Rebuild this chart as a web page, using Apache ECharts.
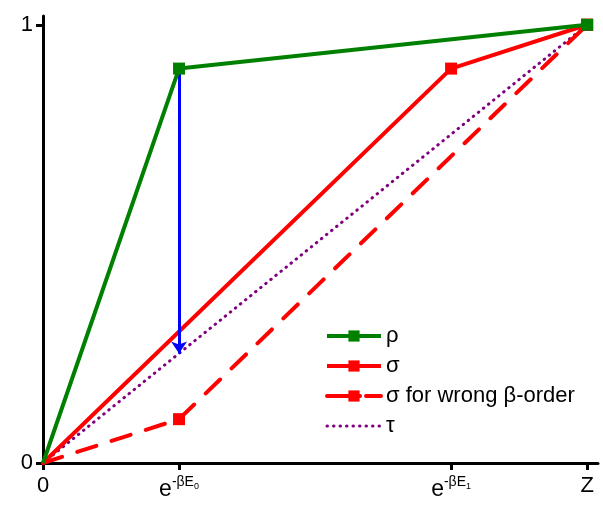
<!DOCTYPE html>
<html>
<head>
<meta charset="utf-8">
<script src="https://cdn.jsdelivr.net/npm/echarts@6.0.0/dist/echarts.min.js"></script>
<style>
html, body { margin: 0; padding: 0; background: #fff; }
#chart { width: 603px; height: 506px; }
</style>
</head>
<body>
<div id="chart"></div>
<script>
// x positions: 0, e^-bE0, e^-bE1, Z  (Z = 1)
var xTicks = [0, 0.25, 0.75, 1];
var yTicks = [0, 1];

var rhoX = [0, 0.25, 1];
var rhoY = [0, 0.9, 1];
var sigmaX = [0, 0.75, 1];
var sigmaY = [0, 0.9, 1];
var wrongX = [0, 0.25, 1];
var wrongY = [0, 0.1, 1];
var tauX = [0, 1];
var tauY = [0, 1];
var arrowFrom = [0.25, 0.9];
var arrowTo = [0.25, 0.25];

var pts = function(xs, ys){
	return xs.map(function(x, i){
		var p = { value: [x, ys[i]] };
		if (x === 0) p.symbol = 'none';
		return p;
	});
};

var chart = echarts.init(document.getElementById('chart'));
var font = 'Liberation Sans, Arial, sans-serif';

var option = {
	animation: false,
	grid: { left: 43, right: 5, top: 16, bottom: 43 },
	legend: {
		orient: 'vertical',
		left: 320,
		top: 320,
		itemWidth: 54,
		itemHeight: 14,
		itemGap: 8,
		lineStyle: { width: 4 },
		textStyle: { fontSize: 22, color: '#000', fontFamily: font },
		data: [
			{ name: 'ρ' },
			{ name: 'σ' },
			{ name: 'σ for wrong β-order', lineStyle: { type: [33, 6], width: 4 } },
			{ name: 'τ', itemStyle: { opacity: 0 }, lineStyle: { width: 3, type: [0.5, 6], cap: 'round' } }
		]
	},
	xAxis: {
		type: 'value',
		min: 0,
		max: 1.02,
		splitLine: { show: false },
		axisLine: { lineStyle: { color: '#000', width: 3 } },
		axisTick: { show: true, customValues: xTicks, length: 7, lineStyle: { color: '#000', width: 3 } },
		axisLabel: {
			customValues: xTicks,
			margin: 12,
			color: '#000',
			fontFamily: font,
			fontSize: 22,
			formatter: function(v){
				if (v === 0) return '0';
				if (v === 1) return 'Z';
				var sub = v < 0.5 ? '0' : '1';
				return '{e|e}{sup|-βE}{sub|' + sub + '}';
			},
			rich: {
				e: { fontSize: 23, fontFamily: font, color: '#000' },
				sup: { fontSize: 14, fontFamily: font, color: '#000', padding: [0, 0, 16, 0] },
				sub: { fontSize: 9, fontFamily: font, color: '#000', padding: [0, 0, 6, 0] }
			}
		}
	},
	yAxis: {
		type: 'value',
		min: 0,
		max: 1.02,
		splitLine: { show: false },
		axisLine: { lineStyle: { color: '#000', width: 3 } },
		axisTick: { show: true, customValues: yTicks, length: 7, lineStyle: { color: '#000', width: 3 } },
		axisLabel: {
			customValues: yTicks,
			margin: 10,
			color: '#000',
			fontFamily: font,
			fontSize: 22
		}
	},
	series: [
		{
			name: 'τ',
			type: 'line',
			symbol: 'none',
			data: pts(tauX, tauY),
			itemStyle: { color: '#800080' },
			lineStyle: { color: '#800080', width: 3, type: [0.5, 6], cap: 'round' },
			z: 2
		},
		{
			name: 'σ for wrong β-order',
			type: 'line',
			symbol: 'rect',
			symbolSize: 12,
			data: pts(wrongX, wrongY),
			itemStyle: { color: '#ff0000' },
			lineStyle: { color: '#ff0000', width: 4, type: [20, 16], cap: 'round' },
			z: 3
		},
		{
			name: 'σ',
			type: 'line',
			symbol: 'rect',
			symbolSize: 12,
			data: pts(sigmaX, sigmaY),
			itemStyle: { color: '#ff0000' },
			lineStyle: { color: '#ff0000', width: 4 },
			z: 4
		},
		{
			name: 'ρ',
			type: 'line',
			symbol: 'rect',
			symbolSize: 12,
			data: pts(rhoX, rhoY),
			itemStyle: { color: '#008000' },
			lineStyle: { color: '#008000', width: 4 },
			z: 5,
			markLine: {
				silent: true,
				symbol: ['none', 'arrow'],
				symbolSize: 12,
				label: { show: false },
				lineStyle: { color: '#0000ff', width: 3, type: 'solid' },
				data: [[{ coord: arrowFrom }, { coord: arrowTo }]]
			}
		}
	]
};
chart.setOption(option);
</script>
</body>
</html>
